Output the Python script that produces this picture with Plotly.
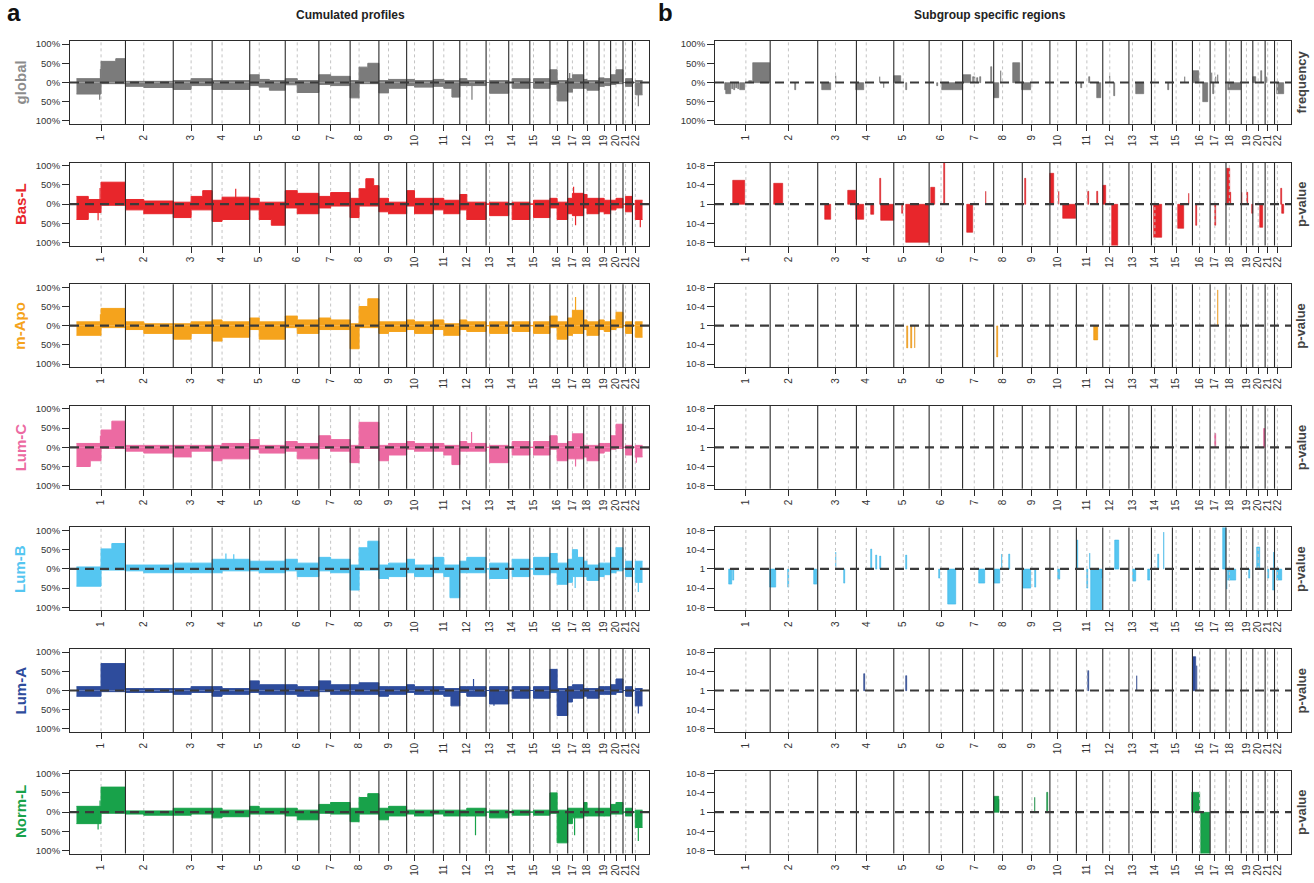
import plotly.graph_objects as go

# ---------------- genome layout (Mb) ----------------
CHROMS = [str(i) for i in range(1, 23)]
CHR_LEN = [249.3, 243.2, 198.0, 191.2, 180.9, 171.1, 159.1, 146.4, 141.2, 135.5, 135.0,
           133.9, 115.2, 107.3, 102.5, 90.4, 81.2, 78.1, 59.1, 63.0, 48.1, 51.3]
CHR_CEN = [125.0, 93.3, 91.0, 50.4, 48.4, 61.0, 59.9, 45.6, 49.0, 40.2, 53.7,
           35.8, 17.9, 17.6, 19.0, 36.6, 24.0, 17.2, 26.5, 27.5, 13.2, 14.7]

GROUPS = ["global", "Bas-L", "m-Apo", "Lum-C", "Lum-B", "Lum-A", "Norm-L"]
COLORS = ["#7b7b7b", "#e8262b", "#f5a31c", "#ec6aa2", "#55c6f1", "#2e4c9c", "#18a24a"]
DARK_COLORS = ["#6a6a6a", "#d41f24", "#e8920e", "#d9417f", "#3db5e6", "#263f86", "#0f8a3c"]
LABEL_COLORS = ["#8c8c8c", "#e8262b", "#f5a31c", "#ec6aa2", "#55c6f1", "#2e4c9c", "#18a24a"]
RIGHT_UNITS = ["frequency", "p-value", "p-value", "p-value", "p-value", "p-value", "p-value"]

PCT_TICKS = [100, 50, 0, -50, -100]
PCT_TEXT = ["100%", "50%", "0%", "50%", "100%"]
PV_TICKS = [8, 4, 0, -4, -8]
PV_TEXT = ["10-8", "10-4", "1", "10-4", "10-8"]

# ---------------- cumulated profiles: (p arm, q arm) per chromosome, % ----------------
GLOBAL_GAIN = [(10, 55), (3, 3), (5, 10), (5, 5), (20, 8), (10, 5), (20, 16), (5, 50), (5, 8), (8, 5), (8, 5),
               (10, 5), (0, 5), (0, 10), (0, 10), (33, 5), (10, 20), (8, 5), (12, 10), (20, 33), (0, 10), (0, 5)]
GLOBAL_LOSS = [(-30, -3), (-10, -13), (-18, -8), (-18, -18), (-8, -12), (-6, -26), (-5, -8), (-40, -3), (-27, -15),
               (-8, -12), (-10, -35), (-8, -8), (0, -28), (0, -15), (0, -15), (-5, -48), (-25, -15), (-15, -20),
               (-10, -8), (-5, -3), (0, -10), (0, -32)]
BASL_GAIN = [(20, 57), (12, 8), (5, 30), (10, 18), (15, 5), (35, 28), (20, 30), (15, 60), (15, 5), (35, 15), (15, 10),
             (25, 5), (0, 5), (0, 5), (0, 10), (15, 5), (15, 28), (25, 15), (15, 10), (10, 15), (0, 20), (0, 10)]
BASL_LOSS = [(-40, -3), (-15, -25), (-35, -15), (-45, -40), (-15, -55), (-10, -25), (-10, -5), (-35, -5), (-20, -25),
             (-5, -25), (-15, -25), (-15, -40), (0, -30), (0, -40), (0, -35), (-10, -40), (-25, -30), (-10, -25),
             (-20, -25), (-15, -10), (0, -20), (0, -40)]
MAPO_GAIN = [(10, 45), (10, 5), (5, 10), (15, 10), (20, 10), (25, 15), (20, 15), (5, 65), (10, 10), (15, 10), (15, 5),
             (15, 10), (0, 10), (0, 10), (0, 10), (25, 10), (20, 40), (15, 10), (15, 10), (15, 35), (0, 10), (0, 10)]
MAPO_LOSS = [(-25, -5), (-10, -20), (-35, -20), (-40, -30), (-10, -35), (-5, -20), (-10, -10), (-60, -5), (-20, -15),
             (-10, -20), (-10, -25), (-10, -15), (0, -20), (0, -15), (0, -20), (-5, -35), (-25, -20), (-10, -25),
             (-10, -15), (-10, -5), (0, -20), (0, -30)]
LUMC_GAIN = [(10, 62), (5, 5), (5, 5), (5, 10), (20, 5), (15, 10), (30, 20), (5, 65), (5, 10), (15, 10), (10, 5),
             (15, 10), (0, 5), (0, 15), (0, 15), (30, 10), (15, 35), (5, 5), (10, 10), (30, 60), (0, 5), (0, 5)]
LUMC_LOSS = [(-50, -3), (-10, -15), (-25, -10), (-35, -30), (-5, -15), (-10, -30), (-3, -10), (-40, -3), (-35, -20),
             (-5, -10), (-10, -45), (-10, -10), (0, -40), (0, -20), (0, -20), (-5, -35), (-30, -30), (-25, -35),
             (-15, -10), (-5, -3), (0, -20), (0, -25)]
LUMB_GAIN = [(5, 62), (10, 10), (15, 15), (25, 25), (20, 20), (25, 15), (30, 25), (10, 70), (10, 15), (25, 10),
             (30, 10), (20, 30), (0, 15), (0, 25), (0, 30), (40, 15), (25, 50), (20, 10), (15, 15), (30, 55),
             (0, 20), (0, 20)]
LUMB_LOSS = [(-45, -3), (-5, -10), (-10, -10), (-10, -5), (-5, -10), (-5, -20), (-5, -10), (-55, -3), (-25, -20),
             (-10, -20), (-10, -75), (-10, -10), (0, -25), (0, -20), (0, -15), (-10, -40), (-35, -20), (-20, -30),
             (-20, -15), (-10, -5), (0, -20), (0, -35)]
LUMA_GAIN = [(10, 70), (5, 5), (5, 10), (10, 5), (25, 15), (15, 10), (25, 15), (15, 20), (10, 10), (15, 10), (10, 5),
             (10, 10), (0, 10), (0, 10), (0, 10), (55, 5), (10, 15), (5, 5), (10, 10), (15, 30), (0, 10), (0, 5)]
LUMA_LOSS = [(-15, -3), (-5, -5), (-10, -5), (-15, -10), (-5, -10), (-10, -15), (-3, -10), (-10, -10), (-15, -10),
             (-5, -10), (-10, -40), (-5, -15), (0, -35), (0, -20), (0, -20), (-5, -65), (-30, -20), (-15, -20),
             (-10, -10), (-10, -5), (0, -15), (0, -40)]
NORML_GAIN = [(15, 65), (3, 3), (10, 10), (10, 5), (15, 10), (10, 5), (20, 25), (10, 45), (10, 15), (5, 5), (5, 5),
              (5, 10), (0, 5), (0, 5), (0, 5), (50, 5), (10, 10), (25, 10), (10, 10), (20, 25), (0, 10), (0, 5)]
NORML_LOSS = [(-30, -3), (-5, -8), (-8, -5), (-15, -12), (-5, -5), (-10, -20), (-3, -5), (-25, -5), (-20, -10),
              (-5, -10), (-5, -10), (-10, -10), (0, -15), (0, -8), (0, -8), (-3, -80), (-30, -15), (-10, -10),
              (-10, -10), (-5, -5), (0, -10), (0, -40)]

# sub-arm refinements: (chromosome, start Mb, end Mb, gain %, loss %); None keeps the arm value
GLOBAL_SUB = [(1, 200, 249.3, 62, None), (8, 45.6, 90, 40, None), (11, 53.7, 95, None, -15),
              (11, 95, 135.0, None, -38), (5, 100, 180.9, 5, -20)]
BASL_SUB = [(8, 45.6, 80, 40, None), (8, 80, 120, 66, None), (8, 120, 146.4, 48, None), (3, 91, 150, 20, None),
            (3, 150, 198, 35, None), (5, 48.4, 110, None, -40), (5, 110, 180.9, None, -55),
            (1, 60, 125, 12, -22)]
MAPO_SUB = [(8, 45.6, 90, 50, None), (8, 90, 146.4, 70, None)]
LUMC_SUB = [(1, 70, 125, None, -35), (1, 125, 180, 45, None), (1, 180, 249.3, 68, None),
            (11, 53.7, 95, None, -20), (11, 95, 135.0, None, -45)]
LUMB_SUB = [(1, 125, 180, 52, None), (1, 180, 249.3, 66, None), (8, 45.6, 90, 55, None),
            (8, 90, 146.4, 72, None), (11, 53.7, 85, None, -20), (11, 85, 135.0, None, -75),
            (17, 24, 50, 50, None), (17, 50, 81.2, 30, None)]
LUMA_SUB = [(11, 53.7, 90, None, -15), (11, 90, 135.0, None, -40)]
NORML_SUB = [(8, 45.6, 90, 38, None), (8, 90, 146.4, 48, None)]

# isolated narrow peaks in the profiles: (chromosome, Mb, %)
GLOBAL_SPIKES = [(1, 118, -45), (1, 122, 35), (12, 62, -45), (22, 30, -62), (17, 10, 25)]
BASL_SPIKES = [(1, 120, 42), (1, 110, -42), (4, 120, 40), (17, 30, 45), (17, 40, -55), (22, 40, -60)]
MAPO_SPIKES = [(17, 40, 75), (1, 122, 30)]
LUMC_SPIKES = [(1, 122, 30), (12, 60, 40), (17, 40, -50), (22, 20, -40)]
LUMB_SPIKES = [(4, 70, 40), (4, 110, 38), (17, 38, -50), (22, 30, -60)]
LUMA_SPIKES = [(12, 70, 30), (13, 40, -40), (22, 30, -60)]
NORML_SPIKES = [(1, 120, 30), (1, 110, -45), (12, 80, -60), (17, 35, -60), (22, 30, -75)]

# ---------------- subgroup specific regions: (chromosome, start Mb, end Mb, value) ----------------
GLOBAL_REG = [(1, 20, 23, -20), (1, 25, 51, -30), (1, 56, 59, -18), (1, 64, 67, -20), (1, 74, 77, -15),
              (1, 84, 88, -18), (1, 95, 120, -20), (1, 140, 158, 3), (1, 160, 249, 50), (2, 127, 130, -20),
              (3, 21, 67, -20), (3, 92, 95, 18), (4, 0, 37, -20), (4, 120, 123, 15), (4, 140, 143, -15),
              (5, 0, 35, 18), (5, 64, 67, -20), (6, 40, 43, -10), (6, 64, 171, -20), (7, 0, 42, 20),
              (7, 53, 56, 15), (7, 62, 65, 15), (7, 75, 78, 12), (7, 90, 93, 15), (7, 146, 149, 40),
              (8, 0, 26, -40), (8, 35, 38, 30), (8, 97, 133, 50), (9, 0, 46, -20), (11, 25, 28, -15),
              (11, 65, 68, 15), (11, 104, 125, -40), (12, 35, 38, 18), (12, 60, 63, -35), (13, 36, 77, -30),
              (14, 85, 88, -20), (15, 62, 65, 15), (16, 4, 36, 30), (16, 52, 80, -50), (17, 8, 10, 25),
              (17, 16, 18, -30), (17, 28, 30, 15), (17, 40, 42, 20), (18, 11, 78, -20), (20, 0, 15, 15),
              (20, 40, 45, 30), (21, 8, 11, 15), (22, 15, 47, -30)]
BASL_REG = [(1, 61, 123, 4.9), (2, 21, 67, 4.3), (3, 38, 67, -3.2), (3, 156, 194, 2.8), (4, 0, 39, -3.2),
            (4, 76, 91, -2.2), (4, 122, 125, 5.3), (4, 126, 191, -3.5), (5, 44, 47, -2.0), (5, 62, 181, -8.0),
            (6, 11, 32, 3.5), (6, 78, 81, 9.0), (7, 21, 53, -6.0), (7, 118, 121, 2.5), (9, 14, 17, 5.4),
            (10, 0, 21, 6.4), (10, 46, 49, 2.5), (10, 68, 135, -3.0), (11, 61, 64, 2.5), (11, 107, 110, 2.5),
            (12, 0, 16, 3.8), (12, 45, 76, -9.0), (14, 15, 54, -7.0), (15, 26, 59, -5.2), (15, 84, 87, 2.2),
            (16, 20, 23, -4.5), (17, 25, 28, -4.5), (18, 7, 20, 7.4), (18, 20, 27, 2.3), (19, 2, 5, 2.3),
            (19, 30, 33, 2.3), (19, 53, 59, -2.0), (20, 38, 52, -4.8), (22, 34, 37, 3.3), (22, 37, 47, -2.0)]
MAPO_REG = [(5, 70, 73, -4.7), (5, 88, 91, -4.7), (5, 108, 111, -4.7), (8, 18, 22, -6.5), (11, 92, 110, -3.0),
            (17, 38, 41, 7.3)]
LUMC_REG = [(17, 25, 28, 2.8), (20, 56, 63, 3.8)]
LUMB_REG = [(1, 38, 53, -3.3), (1, 57, 66, -2.4), (2, 0, 28, -3.8), (2, 91, 94, -3.8), (2, 224, 241, -3.2),
            (3, 93, 96, 3.5), (3, 135, 138, -3.0), (4, 75, 78, 4.0), (4, 100, 103, 2.8), (4, 122, 125, 2.5),
            (5, 65, 68, 2.8), (6, 52, 55, -2.0), (6, 96, 139, -7.3), (7, 85, 117, -3.0), (8, 0, 31, -3.0),
            (8, 41, 44, 3.0), (8, 80, 83, 3.0), (9, 4, 46, -4.0), (9, 66, 69, -3.8), (10, 43, 53, -2.2),
            (11, 3, 6, 6.0), (11, 56, 59, -4.0), (11, 69, 72, 3.3), (11, 77, 129, -9.0), (11, 130, 133, -2.0),
            (12, 61, 85, 5.9), (13, 19, 34, -2.5), (13, 100, 110, -2.3), (14, 35, 38, 3.0), (14, 63, 66, 7.5),
            (17, 64, 81, 9.0), (18, 3, 6, -4.2), (18, 11, 51, -2.3), (19, 40, 43, -2.0), (20, 22, 38, 4.5),
            (21, 15, 18, -2.0), (21, 40, 43, -4.5), (21, 44, 47, 3.5), (22, 15, 39, -2.3)]
LUMA_REG = [(4, 40, 43, 3.5), (5, 60, 70, 3.0), (11, 60, 63, 4.0), (13, 40, 43, 3.0), (16, 5, 20, 7.0),
            (16, 22, 25, 5.0)]
NORML_REG = [(8, 0, 26, 3.2), (8, 26, 29, 2.5), (9, 63, 66, 3.0), (9, 127, 130, 4.0), (16, 0, 38, 4.0),
             (16, 46, 90, -9.0)]

GAINS = [GLOBAL_GAIN, BASL_GAIN, MAPO_GAIN, LUMC_GAIN, LUMB_GAIN, LUMA_GAIN, NORML_GAIN]
LOSSES = [GLOBAL_LOSS, BASL_LOSS, MAPO_LOSS, LUMC_LOSS, LUMB_LOSS, LUMA_LOSS, NORML_LOSS]
SUBS = [GLOBAL_SUB, BASL_SUB, MAPO_SUB, LUMC_SUB, LUMB_SUB, LUMA_SUB, NORML_SUB]
SPIKES = [GLOBAL_SPIKES, BASL_SPIKES, MAPO_SPIKES, LUMC_SPIKES, LUMB_SPIKES, LUMA_SPIKES, NORML_SPIKES]
REGIONS = [GLOBAL_REG, BASL_REG, MAPO_REG, LUMC_REG, LUMB_REG, LUMA_REG, NORML_REG]

# ---------------- geometry ----------------
W, H = 1314, 883
LEFT_PX = (70, 649)
RIGHT_PX = (715, 1291)
ROW_TOP0, ROW_H, ROW_PITCH = 41, 83, 121.6
FONT = "Liberation Sans, Arial, Helvetica, sans-serif"

OFFS = [0.0]
for L in CHR_LEN[:-1]:
    OFFS.append(OFFS[-1] + L)
TOTAL = OFFS[-1] + CHR_LEN[-1]
XR = [-33, TOTAL + 33]
CEN_ABS = [o + c for o, c in zip(OFFS, CHR_CEN)]
BOUND = OFFS[1:]


def profile_xy(arms, subs, which):
    """Step profile built from arm values and sub-arm refinements (which: 1=gain, 2=loss)."""
    xs, ys = [], []
    for c, (p, q) in enumerate(arms):
        cs = [s for s in subs if s[0] == c + 1 and s[2 + which] is not None]
        cuts = sorted({0.0, CHR_CEN[c], CHR_LEN[c]} | {s[1] for s in cs} | {s[2] for s in cs})
        for a, b in zip(cuts[:-1], cuts[1:]):
            v = p if b <= CHR_CEN[c] else q
            for s in cs:
                if s[1] <= a and b <= s[2]:
                    v = s[2 + which]
            xs.append(OFFS[c] + a)
            ys.append(v)
    xs.append(TOTAL)
    ys.append(ys[-1])
    return xs, ys


fig = go.Figure()
annotations = []

for i, g in enumerate(GROUPS):
    top = ROW_TOP0 + i * ROW_PITCH
    bot = top + ROW_H
    ydom = [1 - bot / H, 1 - top / H]
    for j in range(2):
        k = i * 2 + j + 1
        xn = "x" if k == 1 else f"x{k}"
        yn = "y" if k == 1 else f"y{k}"
        px = LEFT_PX if j == 0 else RIGHT_PX
        pct = (j == 0) or (i == 0)
        yr = [-108, 108] if pct else [-8.64, 8.64]
        big = 200 if pct else 20

        # centromere dotted lines
        dx, dy = [], []
        for c in CEN_ABS:
            dx += [c, c, None]
            dy += [-big, big, None]
        fig.add_trace(go.Scatter(x=dx, y=dy, mode="lines", xaxis=xn, yaxis=yn, hoverinfo="skip",
                                 line=dict(color="#c4c4c4", width=1, dash="dot"), showlegend=False))

        if j == 0:
            for which, arms in ((1, GAINS[i]), (2, LOSSES[i])):
                xs, ys = profile_xy(arms, SUBS[i], which)
                fig.add_trace(go.Scatter(x=xs, y=ys, mode="lines", line_shape="hv", fill="tozeroy",
                                         fillcolor=COLORS[i], line=dict(color=COLORS[i], width=1),
                                         xaxis=xn, yaxis=yn, hoverinfo="skip", showlegend=False))
            sx, sy = [], []
            for c, pos, v in SPIKES[i]:
                sx += [OFFS[c - 1] + pos, OFFS[c - 1] + pos, None]
                sy += [0, v, None]
            fig.add_trace(go.Scatter(x=sx, y=sy, mode="lines", line=dict(color=COLORS[i], width=1.2),
                                     xaxis=xn, yaxis=yn, hoverinfo="skip", showlegend=False))
        else:
            regs = REGIONS[i]
            bx = [OFFS[c - 1] + (s + e) / 2 for c, s, e, v in regs]
            bw = [max(e - s, 3) for c, s, e, v in regs]
            bv = [v for c, s, e, v in regs]
            fig.add_trace(go.Bar(x=bx, y=bv, width=bw, base=0, xaxis=xn, yaxis=yn,
                                 marker=dict(color=COLORS[i], line=dict(color=DARK_COLORS[i], width=0.6)),
                                 hoverinfo="skip", showlegend=False))

        # chromosome boundary lines
        sx, sy = [], []
        for b in BOUND:
            sx += [b, b, None]
            sy += [-big, big, None]
        fig.add_trace(go.Scatter(x=sx, y=sy, mode="lines", xaxis=xn, yaxis=yn, hoverinfo="skip",
                                 line=dict(color="#2b2b2b", width=1.1), showlegend=False))
        # dashed zero line
        fig.add_trace(go.Scatter(x=[XR[0], XR[1]], y=[0, 0], mode="lines", xaxis=xn, yaxis=yn,
                                 hoverinfo="skip", line=dict(color="#3a3a3a", width=2.2, dash="9px,6px"),
                                 showlegend=False))

        xkey = "xaxis" if k == 1 else f"xaxis{k}"
        ykey = "yaxis" if k == 1 else f"yaxis{k}"
        fig.layout[xkey] = dict(domain=[px[0] / W, px[1] / W], anchor=yn, range=XR, showgrid=False,
                                zeroline=False, showline=True, mirror=True, linecolor="#2b2b2b", linewidth=1,
                                ticks="outside", ticklen=6, tickcolor="#2b2b2b", tickvals=CEN_ABS,
                                ticktext=CHROMS, tickangle=-90, automargin=False,
                                tickfont=dict(family=FONT, size=10, color="#333333"), fixedrange=True)
        fig.layout[ykey] = dict(domain=ydom, anchor=xn, range=yr, showgrid=False, zeroline=False,
                                showline=True, mirror=True, linecolor="#2b2b2b", linewidth=1,
                                ticks="outside", ticklen=7, tickcolor="#2b2b2b", automargin=False,
                                tickvals=PCT_TICKS if pct else PV_TICKS,
                                ticktext=PCT_TEXT if pct else PV_TEXT,
                                tickfont=dict(family=FONT, size=9.5, color="#333333"), fixedrange=True)

    yc = 1 - (top + ROW_H / 2) / H
    annotations.append(dict(text=f"<b>{g}</b>", x=20 / W, y=yc, xref="paper", yref="paper", showarrow=False,
                            textangle=-90, font=dict(family=FONT, size=15, color=LABEL_COLORS[i]),
                            xanchor="center", yanchor="middle"))
    annotations.append(dict(text=f"<b>{RIGHT_UNITS[i]}</b>", x=1301 / W, y=yc, xref="paper", yref="paper",
                            showarrow=False, textangle=-90, font=dict(family=FONT, size=13, color="#444444"),
                            xanchor="center", yanchor="middle"))

annotations += [
    dict(text="<b>a</b>", x=14 / W, y=1 - 12 / H, xref="paper", yref="paper", showarrow=False,
         font=dict(family=FONT, size=24, color="#111111"), xanchor="center", yanchor="middle"),
    dict(text="<b>b</b>", x=665 / W, y=1 - 12 / H, xref="paper", yref="paper", showarrow=False,
         font=dict(family=FONT, size=24, color="#111111"), xanchor="center", yanchor="middle"),
    dict(text="<b>Cumulated profiles</b>", x=350 / W, y=1 - 15 / H, xref="paper",
         yref="paper", showarrow=False, font=dict(family=FONT, size=12, color="#222222"),
         xanchor="center", yanchor="middle"),
    dict(text="<b>Subgroup specific regions</b>", x=990 / W, y=1 - 15 / H,
         xref="paper", yref="paper", showarrow=False, font=dict(family=FONT, size=12, color="#222222"),
         xanchor="center", yanchor="middle"),
]

fig.update_layout(width=W, height=H, margin=dict(l=0, r=0, t=0, b=0), paper_bgcolor="white",
                  plot_bgcolor="white", barmode="overlay", bargap=0, annotations=annotations,
                  font=dict(family=FONT))
fig.write_html("out.html", config={"displayModeBar": False},
               post_script="document.body.style.margin='0px';document.body.style.overflow='hidden';")
